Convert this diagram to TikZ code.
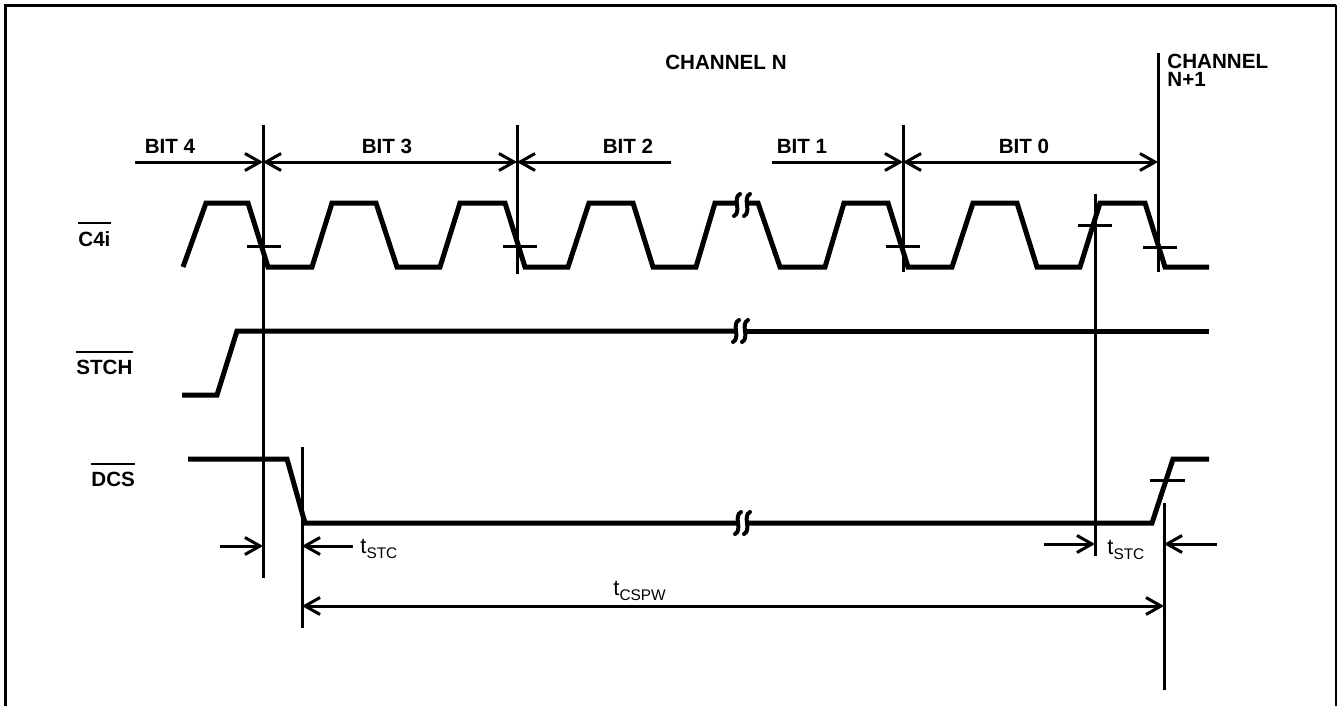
\documentclass[tikz,border=0pt]{standalone}
\usepackage{fontspec}
\setmainfont{Liberation Sans}
\usetikzlibrary{calc}
\usetikzlibrary{arrows.meta}
\usetikzlibrary{positioning}

\newcommand{\tsub}[1]{t\raisebox{-2.6pt}{\fontsize{7.7}{8}\selectfont #1}}

\begin{document}
\begin{tikzpicture}[x=0.5pt, y=-0.5pt,
    >={Straight Barb[length=7.5pt,width=8.5pt]},
    sig/.style={line width=2.5pt},
    refline/.style={line width=1.5pt},
    dimline/.style={line width=1.5pt},
    bar/.style={line width=1pt},
    lbl/.style={font=\bfseries\fontsize{10.3}{12}\selectfont, inner sep=0pt},
    tim/.style={font=\fontsize{11}{12}\selectfont, inner sep=0pt},
    brkmark/.pic={\draw[line width=2pt, line cap=round] (3,-11) .. controls (-5,-7) and (5,7) .. (-3,11);}]
    \useasboundingbox (0,0) rectangle (1338,706);

    % frame
    \draw[line width=1.5pt] (5.5,706) -- (5.5,5.5) -- (1336,5.5);
    \draw[line width=0.75pt] (1336,5) -- (1336,706);

    % headings
    \node[lbl, anchor=base] (chn) at (726,70) {CHANNEL N};
    \node[lbl, anchor=base west] (nxt) at (1167,69) {CHANNEL};
    \node[lbl, anchor=base west] (nxtb) at (1167,87) {N+1};
    \foreach \n/\x in {4/170,3/387,2/628,1/802,0/1024}
      \node[lbl, anchor=base] (bit\n) at (\x,154) {BIT \n};

    % signal names
    \node[lbl, anchor=base west] (c4i) at (78,246) {C4i};
    \node[lbl, anchor=base west] (stch) at (76,374) {STCH};
    \node[lbl, anchor=base west] (dcs) at (91,486) {DCS};
    \foreach \s in {c4i,stch,dcs}
      \draw[bar] ([yshift=3.8pt]\s.north west) -- ([yshift=3.8pt]\s.north east);

    % edge lines
    \coordinate (e1) at (263,125);
    \coordinate (e2) at (517,125);
    \coordinate (e3) at (903,125);
    \coordinate (e4) at (1158,53);
    \coordinate (e5) at (1095,194);
    \coordinate (e6) at (302,447);
    \coordinate (e7) at (1164,503);
    \draw[refline] (e1) -- ++(0,453);
    \draw[refline] (e2) -- ++(0,149);
    \draw[refline] (e3) -- ++(0,147);
    \draw[refline] (e4) -- ++(0,219);
    \draw[refline] (e5) -- ++(0,362);
    \draw[refline] (e6) -- ++(0,181);
    \draw[refline] (e7) -- ++(0,187);

    % bit spans
    \draw[dimline, ->] (135,162) -- (e1 |- 0,162);
    \draw[dimline, <->] (e1 |- 0,162) -- (e2 |- 0,162);
    \draw[dimline, <-] (e2 |- 0,162) -- (671,162);
    \draw[dimline, ->] (772,162) -- (e3 |- 0,162);
    \draw[dimline, <->] (e3 |- 0,162) -- (e4 |- 0,162);

    % C4i
    \draw[sig] (183,267) -- (206,203) -- (248,203) -- (268,267) -- (312,267) -- (332,203)
      -- (376,203) -- (397,267) -- (440,267) -- (460,203) -- (505,203) -- (525,267)
      -- (568,267) -- (589,203) -- (633,203) -- (653,267) -- (696,267) -- (715,203) -- (736,203);
    \draw[sig] (747,203) -- (758,203) -- (780,267) -- (825,267) -- (844,203) -- (888,203)
      -- (908,267) -- (952,267) -- (973,203) -- (1017,203) -- (1037,267) -- (1080,267)
      -- (1100,203) -- (1145,203) -- (1165,267) -- (1209,267);
    \pic at (737,205) {brkmark};
    \pic at (747,205) {brkmark};
    \foreach \x/\y in {264/246,520/246,903/246,1160/247,1095/225}
      \draw[refline] (\x-17,\y) -- (\x+17,\y);

    % STCH
    \draw[sig] (182,395) -- (217,395) -- (237,331) -- (736,331);
    \draw[sig] (745,331) -- (1209,331);
    \pic at (736,331) {brkmark};
    \pic at (745,331) {brkmark};

    % DCS
    \draw[sig] (188,459) -- (287,459) -- (305,523) -- (738,523);
    \draw[sig] (747,523) -- (1152,523) -- (1173,459) -- (1209,459);
    \pic at (738,523) {brkmark};
    \pic at (747,523) {brkmark};
    \draw[refline] (1150,480) -- (1185,480);

    % timing
    \draw[dimline, ->] (220,546) -- (e1 |- 0,546);
    \draw[dimline, ->] (353,546) -- (e6 |- 0,546);
    \node[tim, anchor=base west] (ts1) at (360,553) {\tsub{STC}};
    \draw[dimline, ->] (1044,544) -- (e5 |- 0,544);
    \draw[dimline, ->] (1217,544) -- (e7 |- 0,544);
    \node[tim, anchor=base west] (ts2) at (1107,554) {\tsub{STC}};
    \draw[dimline, <->] (e6 |- 0,606) -- (e7 |- 0,606);
    \node[tim, anchor=base west] (tcs) at (613,595) {\tsub{CSPW}};
\end{tikzpicture}
\end{document}
